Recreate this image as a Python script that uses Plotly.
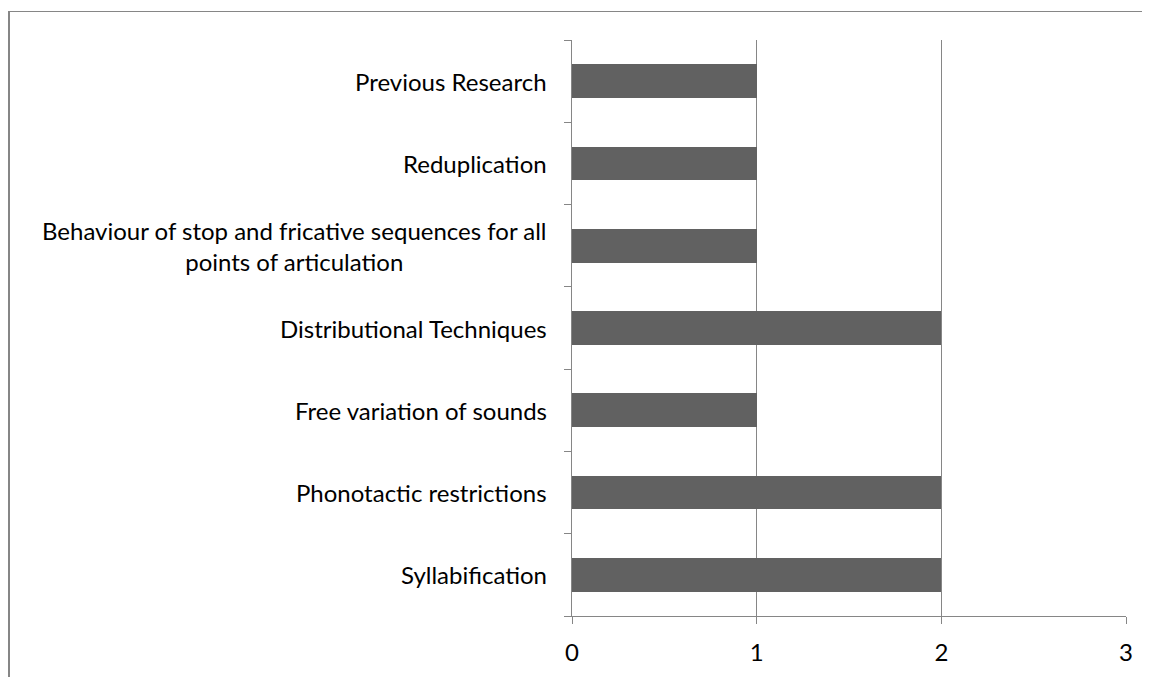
import plotly.graph_objects as go

categories = [
    "Syllabification",
    "Phonotactic restrictions",
    "Free variation of sounds",
    "Distributional Techniques",
    "Behaviour of stop and fricative sequences for all<br>points of articulation",
    "Reduplication",
    "Previous Research",
]
values = [2, 2, 1, 2, 1, 1, 1]
x_ticks = [0, 1, 2, 3]

# page body has an 8px margin, so figure coords = screen coords - 8
W, H = 1142, 669
ml, mt = 564, 32
pw = 1118 - ml
ph = 608 - mt
mr, mb = W - ml - pw, H - mt - ph

FONT = "Lato"
FS = 24
GRID = "#868686"

fig = go.Figure()
fig.add_trace(go.Bar(
    y=list(range(len(categories))), x=values, orientation="h",
    marker=dict(color="#616161", line=dict(width=0)),
    width=0.41, hoverinfo="skip",
))

for i, c in enumerate(categories):
    fig.add_annotation(
        x=0, xref="paper", y=i, yref="y", text=c, showarrow=False,
        xanchor="right", yanchor="middle", align="center", xshift=-23,
        font=dict(family=FONT, size=FS, color="#000000"),
    )

def fx(px):
    return (px - ml) / pw

def fy(py):
    return (H - mb - py) / ph

# chart frame: left and top edges visible
fig.add_shape(type="line", xref="paper", yref="paper",
              x0=fx(1), x1=fx(1), y0=fy(3.5), y1=fy(H + 20),
              line=dict(color=GRID, width=2), layer="below")
fig.add_shape(type="line", xref="paper", yref="paper",
              x0=fx(0), x1=fx(W + 20), y0=fy(3.5), y1=fy(3.5),
              line=dict(color=GRID, width=1.2), layer="below")

fig.update_layout(
    width=W, height=H,
    margin=dict(l=ml, r=mr, t=mt, b=mb, pad=0),
    paper_bgcolor="white", plot_bgcolor="white",
    showlegend=False, bargap=0,
    xaxis=dict(
        range=[0, 3], tickvals=x_ticks, ticktext=[str(t) for t in x_ticks],
        showgrid=True, gridcolor=GRID, gridwidth=1,
        showline=True, linecolor=GRID, linewidth=1,
        ticks="outside", ticklen=7, tickcolor=GRID, tickwidth=1,
        ticklabelstandoff=8,
        tickfont=dict(family=FONT, size=FS, color="#000000"),
        zeroline=False, fixedrange=True,
    ),
    yaxis=dict(
        range=[-0.5, len(categories) - 0.5],
        tickvals=[i - 0.5 for i in range(len(categories) + 1)],
        ticktext=[""] * (len(categories) + 1),
        showgrid=False, showline=True, linecolor=GRID, linewidth=1,
        ticks="outside", ticklen=7, tickcolor=GRID, tickwidth=1,
        zeroline=False, fixedrange=True,
    ),
)

fig.write_html("out.html")
